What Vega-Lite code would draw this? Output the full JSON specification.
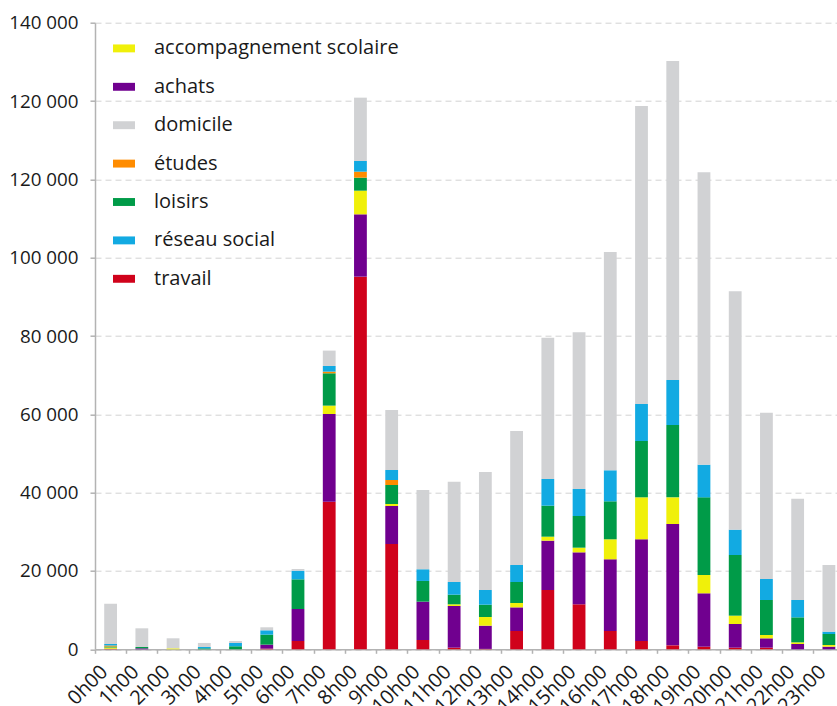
{
  "$schema": "https://vega.github.io/schema/vega-lite/v6.json",
  "width": 742,
  "height": 626.6,
  "autosize": {"type": "none"},
  "padding": {"left": 95, "top": 22.7, "right": 0, "bottom": 56.7},
  "background": "white",
  "config": {
    "view": {"stroke": null},
    "font": "Open Sans",
    "axis": {"labelColor": "#1a1a1a", "domainColor": "#b3b3b3", "tickColor": "#b3b3b3", "domainWidth": 1.5, "tickWidth": 1.5, "labelFont": "Open Sans"},
    "legend": {"labelFont": "Open Sans"}
  },
  "data": {
    "values": [
      {"h": "0h00", "m": "travail", "v": 150},
      {"h": "0h00", "m": "accompagnement scolaire", "v": 290},
      {"h": "0h00", "m": "loisirs", "v": 250},
      {"h": "0h00", "m": "études", "v": 300},
      {"h": "0h00", "m": "réseau social", "v": 340},
      {"h": "0h00", "m": "domicile", "v": 10310},
      {"h": "1h00", "m": "achats", "v": 250},
      {"h": "1h00", "m": "loisirs", "v": 340},
      {"h": "1h00", "m": "domicile", "v": 4770},
      {"h": "2h00", "m": "accompagnement scolaire", "v": 250},
      {"h": "2h00", "m": "domicile", "v": 2560},
      {"h": "3h00", "m": "loisirs", "v": 250},
      {"h": "3h00", "m": "réseau social", "v": 340},
      {"h": "3h00", "m": "domicile", "v": 1030},
      {"h": "4h00", "m": "loisirs", "v": 770},
      {"h": "4h00", "m": "réseau social", "v": 840},
      {"h": "4h00", "m": "domicile", "v": 510},
      {"h": "5h00", "m": "travail", "v": 170},
      {"h": "5h00", "m": "achats", "v": 1020},
      {"h": "5h00", "m": "loisirs", "v": 2550},
      {"h": "5h00", "m": "réseau social", "v": 1110},
      {"h": "5h00", "m": "domicile", "v": 770},
      {"h": "6h00", "m": "travail", "v": 2120},
      {"h": "6h00", "m": "achats", "v": 8170},
      {"h": "6h00", "m": "loisirs", "v": 7575},
      {"h": "6h00", "m": "réseau social", "v": 2210},
      {"h": "6h00", "m": "domicile", "v": 425},
      {"h": "7h00", "m": "travail", "v": 37700},
      {"h": "7h00", "m": "achats", "v": 22390},
      {"h": "7h00", "m": "accompagnement scolaire", "v": 2130},
      {"h": "7h00", "m": "loisirs", "v": 8260},
      {"h": "7h00", "m": "études", "v": 420},
      {"h": "7h00", "m": "réseau social", "v": 1450},
      {"h": "7h00", "m": "domicile", "v": 3920},
      {"h": "8h00", "m": "travail", "v": 95150},
      {"h": "8h00", "m": "achats", "v": 15920},
      {"h": "8h00", "m": "accompagnement scolaire", "v": 6040},
      {"h": "8h00", "m": "loisirs", "v": 3320},
      {"h": "8h00", "m": "études", "v": 1530},
      {"h": "8h00", "m": "réseau social", "v": 2730},
      {"h": "8h00", "m": "domicile", "v": 16170},
      {"h": "9h00", "m": "travail", "v": 26890},
      {"h": "9h00", "m": "achats", "v": 9700},
      {"h": "9h00", "m": "accompagnement scolaire", "v": 510},
      {"h": "9h00", "m": "loisirs", "v": 4850},
      {"h": "9h00", "m": "études", "v": 1280},
      {"h": "9h00", "m": "réseau social", "v": 2550},
      {"h": "9h00", "m": "domicile", "v": 15320},
      {"h": "10h00", "m": "travail", "v": 2380},
      {"h": "10h00", "m": "achats", "v": 9790},
      {"h": "10h00", "m": "loisirs", "v": 5280},
      {"h": "10h00", "m": "réseau social", "v": 2990},
      {"h": "10h00", "m": "domicile", "v": 20250},
      {"h": "11h00", "m": "travail", "v": 420},
      {"h": "11h00", "m": "achats", "v": 10640},
      {"h": "11h00", "m": "accompagnement scolaire", "v": 430},
      {"h": "11h00", "m": "loisirs", "v": 2460},
      {"h": "11h00", "m": "réseau social", "v": 3235},
      {"h": "11h00", "m": "domicile", "v": 25620},
      {"h": "12h00", "m": "travail", "v": 100},
      {"h": "12h00", "m": "achats", "v": 5930},
      {"h": "12h00", "m": "accompagnement scolaire", "v": 2210},
      {"h": "12h00", "m": "loisirs", "v": 3150},
      {"h": "12h00", "m": "réseau social", "v": 3750},
      {"h": "12h00", "m": "domicile", "v": 30130},
      {"h": "13h00", "m": "travail", "v": 4670},
      {"h": "13h00", "m": "achats", "v": 6040},
      {"h": "13h00", "m": "accompagnement scolaire", "v": 1110},
      {"h": "13h00", "m": "loisirs", "v": 5360},
      {"h": "13h00", "m": "réseau social", "v": 4340},
      {"h": "13h00", "m": "domicile", "v": 34220},
      {"h": "14h00", "m": "travail", "v": 15140},
      {"h": "14h00", "m": "achats", "v": 12600},
      {"h": "14h00", "m": "accompagnement scolaire", "v": 1020},
      {"h": "14h00", "m": "loisirs", "v": 7920},
      {"h": "14h00", "m": "réseau social", "v": 6810},
      {"h": "14h00", "m": "domicile", "v": 36090},
      {"h": "15h00", "m": "travail", "v": 11490},
      {"h": "15h00", "m": "achats", "v": 13270},
      {"h": "15h00", "m": "accompagnement scolaire", "v": 1190},
      {"h": "15h00", "m": "loisirs", "v": 8090},
      {"h": "15h00", "m": "réseau social", "v": 6895},
      {"h": "15h00", "m": "domicile", "v": 40005},
      {"h": "16h00", "m": "travail", "v": 4670},
      {"h": "16h00", "m": "achats", "v": 18310},
      {"h": "16h00", "m": "accompagnement scolaire", "v": 5110},
      {"h": "16h00", "m": "loisirs", "v": 9700},
      {"h": "16h00", "m": "réseau social", "v": 7920},
      {"h": "16h00", "m": "domicile", "v": 55740},
      {"h": "17h00", "m": "travail", "v": 2120},
      {"h": "17h00", "m": "achats", "v": 25970},
      {"h": "17h00", "m": "accompagnement scolaire", "v": 10720},
      {"h": "17h00", "m": "loisirs", "v": 14380},
      {"h": "17h00", "m": "réseau social", "v": 9450},
      {"h": "17h00", "m": "domicile", "v": 76100},
      {"h": "18h00", "m": "travail", "v": 1010},
      {"h": "18h00", "m": "achats", "v": 30980},
      {"h": "18h00", "m": "accompagnement scolaire", "v": 6810},
      {"h": "18h00", "m": "loisirs", "v": 18470},
      {"h": "18h00", "m": "réseau social", "v": 11490},
      {"h": "18h00", "m": "domicile", "v": 81460},
      {"h": "19h00", "m": "travail", "v": 670},
      {"h": "19h00", "m": "achats", "v": 13630},
      {"h": "19h00", "m": "accompagnement scolaire", "v": 4670},
      {"h": "19h00", "m": "loisirs", "v": 19830},
      {"h": "19h00", "m": "réseau social", "v": 8340},
      {"h": "19h00", "m": "domicile", "v": 74660},
      {"h": "20h00", "m": "travail", "v": 420},
      {"h": "20h00", "m": "achats", "v": 6040},
      {"h": "20h00", "m": "accompagnement scolaire", "v": 2130},
      {"h": "20h00", "m": "loisirs", "v": 15490},
      {"h": "20h00", "m": "réseau social", "v": 6470},
      {"h": "20h00", "m": "domicile", "v": 60870},
      {"h": "21h00", "m": "travail", "v": 420},
      {"h": "21h00", "m": "achats", "v": 2380},
      {"h": "21h00", "m": "accompagnement scolaire", "v": 850},
      {"h": "21h00", "m": "loisirs", "v": 8940},
      {"h": "21h00", "m": "réseau social", "v": 5360},
      {"h": "21h00", "m": "domicile", "v": 42470},
      {"h": "22h00", "m": "achats", "v": 1350},
      {"h": "22h00", "m": "accompagnement scolaire", "v": 430},
      {"h": "22h00", "m": "loisirs", "v": 6380},
      {"h": "22h00", "m": "réseau social", "v": 4430},
      {"h": "22h00", "m": "domicile", "v": 25875},
      {"h": "23h00", "m": "achats", "v": 670},
      {"h": "23h00", "m": "accompagnement scolaire", "v": 430},
      {"h": "23h00", "m": "loisirs", "v": 2810},
      {"h": "23h00", "m": "réseau social", "v": 600},
      {"h": "23h00", "m": "domicile", "v": 17020}
    ]
  },
  "transform": [
    {"calculate": "indexof(['travail','achats','accompagnement scolaire','loisirs','études','réseau social','domicile'], datum.m)", "as": "o"}
  ],
  "mark": {"type": "bar"},
  "encoding": {
    "x": {
      "field": "h", "type": "nominal", "sort": null, "title": null,
      "scale": {"range": [0, 749.5], "paddingInner": 0.59, "paddingOuter": 0.295},
      "axis": {
        "labelAngle": -45, "labelAlign": "right", "labelBaseline": "middle",
        "labelFontSize": 20, "labelPadding": 15, "labelOffset": 9,
        "tickOffset": -15.615, "tickSize": 4, "grid": false
      }
    },
    "y": {
      "field": "v", "type": "quantitative", "stack": "zero", "title": null,
      "scale": {"domain": [0, 160000], "nice": false},
      "axis": {
        "values": [0, 20000, 40000, 60000, 80000, 100000, 120000, 140000, 160000],
        "labelExpr": "datum.value == 140000 ? '120 000' : datum.value == 160000 ? '140 000' : replace(format(datum.value, ','), ',', ' ')",
        "labelFontSize": 18.8, "labelPadding": 12, "tickSize": 5,
        "grid": true, "gridDash": [6, 4], "gridColor": "#d3d3d3", "gridWidth": 1
      }
    },
    "color": {
      "field": "m", "type": "nominal",
      "scale": {
        "domain": ["accompagnement scolaire", "achats", "domicile", "études", "loisirs", "réseau social", "travail"],
        "range": ["#f0f00a", "#70008f", "#d1d2d4", "#ff8c00", "#009b48", "#12aae2", "#d0021b"]
      },
      "legend": {
        "title": null, "orient": "none", "legendX": 18, "legendY": 14.7,
        "labelFontSize": 20, "labelColor": "#1a1a1a", "labelLimit": 0,
        "symbolType": "M-1,-0.36H1V0.36H-1Z", "symbolSize": 484, "symbolStrokeWidth": 0,
        "labelOffset": 19, "rowPadding": 17.4, "padding": 0
      }
    },
    "order": {"field": "o", "type": "quantitative"}
  }
}
